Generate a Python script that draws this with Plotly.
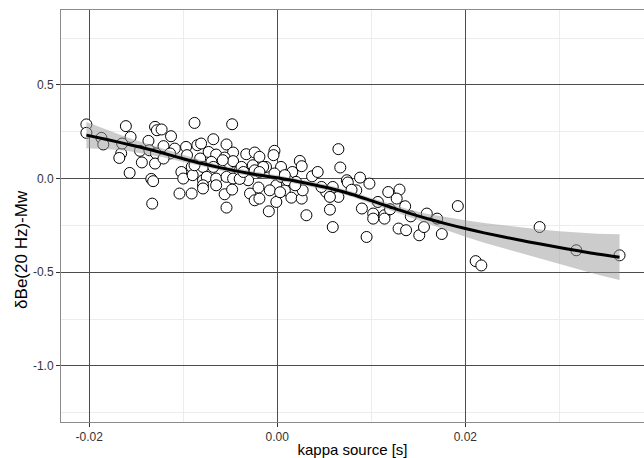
import plotly.graph_objects as go

# ---- scatter data (kappa source [s], dBe(20 Hz)-Mw) ----
kappa = [
    -0.0203, -0.0203, -0.0187, -0.0185, -0.0161, -0.0156, -0.0166, -0.0168, -0.0157, -0.0144,
    -0.0146, -0.0137, -0.0136, -0.0130, -0.0128, -0.0123, -0.0113, -0.0121, -0.0129, -0.0130,
    -0.0134, -0.0132, -0.0133, -0.0109, -0.0114, -0.0121, -0.0097, -0.0096, -0.0088, -0.0085,
    -0.0081, -0.0068, -0.0054, -0.0048, -0.0047, -0.0073, -0.0065, -0.0056, -0.0033, -0.0024,
    -0.0026, -0.0082, -0.0070, -0.0079, -0.0091, -0.0102, -0.0100, -0.0090, -0.0079, -0.0075,
    -0.0065, -0.0054, -0.0047, -0.0040, -0.0051, -0.0031, -0.0079, -0.0065, -0.0104, -0.0091,
    -0.0079, -0.0056, -0.0048, -0.0054, -0.0029, -0.0024, -0.0019, -0.0003, -0.0004, -0.0012,
    0.0004, 0.0024, 0.0026, 0.0016, 0.0037, 0.0043, 0.0065, 0.0067, 0.0059, 0.0052,
    0.0074, 0.0088, 0.0098, 0.0084, 0.0065, 0.0056, 0.0031, 0.0059, 0.0095, 0.0090,
    0.0102, 0.0102, 0.0114, 0.0114, 0.0118, 0.0130, 0.0129, 0.0107, -0.0001, 0.0008,
    0.0015, 0.0026, 0.0027, 0.0020, 0.0004, 0.0011, -0.0008, -0.0001, -0.0009, -0.0019,
    -0.0020, -0.0040, -0.0047, -0.0038, -0.0015, -0.0003, 0.0008, -0.0024, -0.0036, 0.0075,
    0.0079, 0.0120, 0.0127, 0.0136, 0.0142, 0.0137, 0.0151, 0.0156, 0.0159, 0.0170,
    0.0175, 0.0192, 0.0211, 0.0217, 0.0279, 0.0318, 0.0364, 0.0056, 0.0047, 0.0019,
    -0.0165, -0.0058, -0.0019, -0.0068, 0.0003, -0.0088,
]
delta_be = [
    0.289, 0.244, 0.217, 0.182, 0.280, 0.222, 0.134, 0.110, 0.030, 0.086,
    0.148, 0.201, 0.151, 0.276, 0.258, 0.262, 0.226, 0.173, 0.134, 0.080,
    -0.002, -0.014, -0.134, 0.160, 0.134, 0.107, 0.169, 0.125, 0.297, 0.178,
    0.187, 0.210, 0.182, 0.290, 0.139, 0.142, 0.128, 0.112, 0.130, 0.139,
    0.071, 0.107, 0.089, 0.062, 0.062, 0.035, 0.000, 0.018, -0.009, 0.009,
    0.000, 0.009, 0.000, 0.044, 0.080, -0.009, -0.036, -0.036, -0.080, -0.080,
    -0.053, -0.084, -0.059, -0.155, -0.080, -0.116, 0.116, 0.148, 0.125, 0.062,
    0.062, 0.094, 0.066, 0.035, 0.012, 0.035, 0.157, 0.059, -0.045, -0.072,
    -0.009, 0.005, -0.027, -0.063, -0.098, -0.166, -0.196, -0.259, -0.312, -0.160,
    -0.187, -0.214, -0.196, -0.214, -0.072, -0.059, -0.267, -0.125, -0.036, -0.063,
    -0.102, -0.107, -0.063, -0.018, 0.009, -0.009, -0.063, -0.125, -0.175, -0.107,
    -0.048, -0.002, 0.093, 0.062, 0.062, 0.027, 0.018, 0.044, 0.035, -0.021,
    -0.060, -0.164, -0.107, -0.148, -0.202, -0.276, -0.303, -0.259, -0.187, -0.214,
    -0.296, -0.147, -0.441, -0.464, -0.259, -0.383, -0.410, -0.098, -0.045, -0.036,
    0.187, 0.098, 0.035, 0.062, -0.073, 0.071,
]

# ---- smooth (loess) curve and confidence band ----
fit_x = [-0.0203, -0.018, -0.016, -0.014, -0.012, -0.010, -0.008, -0.006, -0.004, -0.002,
         0.000, 0.002, 0.004, 0.006, 0.008, 0.010, 0.012, 0.014, 0.016, 0.018,
         0.020, 0.022, 0.024, 0.026, 0.028, 0.030, 0.032, 0.034, 0.0364]
fit_y = [0.232, 0.207, 0.184, 0.160, 0.134, 0.106, 0.080, 0.057, 0.037, 0.019,
         0.004, -0.014, -0.034, -0.057, -0.085, -0.118, -0.152, -0.185, -0.215, -0.242,
         -0.267, -0.290, -0.311, -0.331, -0.350, -0.368, -0.386, -0.403, -0.420]
fit_lo = [0.162, 0.157, 0.148, 0.132, 0.112, 0.088, 0.064, 0.043, 0.023, 0.005,
          -0.010, -0.028, -0.048, -0.071, -0.099, -0.132, -0.168, -0.205, -0.241, -0.276,
          -0.311, -0.343, -0.373, -0.401, -0.430, -0.457, -0.484, -0.512, -0.542]
fit_hi = [0.302, 0.257, 0.220, 0.188, 0.156, 0.124, 0.096, 0.071, 0.051, 0.033,
          0.018, 0.000, -0.020, -0.043, -0.071, -0.104, -0.136, -0.165, -0.189, -0.208,
          -0.223, -0.237, -0.249, -0.261, -0.272, -0.281, -0.289, -0.295, -0.298]

x_ticks = [-0.02, 0.00, 0.02]
x_tick_labels = ["-0.02", "0.00", "0.02"]
y_ticks = [0.5, 0.0, -0.5, -1.0]
y_tick_labels = ["0.5", "0.0", "-0.5", "-1.0"]
x_minor = [-0.01, 0.01, 0.03]
y_minor = [0.75, 0.25, -0.25, -0.75, -1.25]
y_title = "δBe(20 Hz)-Mw"
x_title = "kappa source [s]"

FONT = "Liberation Sans, Arial, sans-serif"

fig = go.Figure()
fig.add_trace(go.Scatter(
    x=kappa, y=delta_be, mode="markers",
    marker=dict(size=11, color="white", line=dict(color="black", width=1)),
    showlegend=False, hoverinfo="skip"))
fig.add_trace(go.Scatter(
    x=fit_x + fit_x[::-1], y=fit_hi + fit_lo[::-1], fill="toself",
    fillcolor="rgba(153,153,153,0.5)", line=dict(width=0), mode="lines",
    showlegend=False, hoverinfo="skip"))
fig.add_trace(go.Scatter(
    x=fit_x, y=fit_y, mode="lines", line=dict(color="black", width=3, shape="spline"),
    showlegend=False, hoverinfo="skip"))

axis_common = dict(
    showline=True, linecolor="#8c8c8c", linewidth=1, mirror=True,
    showgrid=True, gridcolor="#4d4d4d", gridwidth=1,
    zeroline=False, ticks="outside", ticklen=4, tickcolor="#333333",
    tickfont=dict(family=FONT, size=12, color="#333333"),
)
fig.update_xaxes(
    range=[-0.0230, 0.0390], tickvals=x_ticks, ticktext=x_tick_labels,
    minor=dict(tickvals=x_minor, showgrid=True, gridcolor="#ececec", gridwidth=1, ticks=""),
    title=dict(text=x_title, standoff=2,
               font=dict(family=FONT, size=15, color="black")),
    **axis_common)
fig.update_yaxes(
    range=[-1.30, 0.90], tickvals=y_ticks, ticktext=y_tick_labels,
    minor=dict(tickvals=y_minor, showgrid=True, gridcolor="#ececec", gridwidth=1, ticks=""),
    **axis_common)
fig.add_annotation(
    text=y_title, xref="paper", yref="paper", x=-0.067, y=0.42,
    xanchor="center", yanchor="middle", textangle=-90, showarrow=False,
    font=dict(family=FONT, size=17, color="black"))
fig.update_layout(
    width=644, height=458,
    margin=dict(l=61, r=0, t=10, b=36),
    plot_bgcolor="white", paper_bgcolor="white",
)
fig.write_html("out.html")
